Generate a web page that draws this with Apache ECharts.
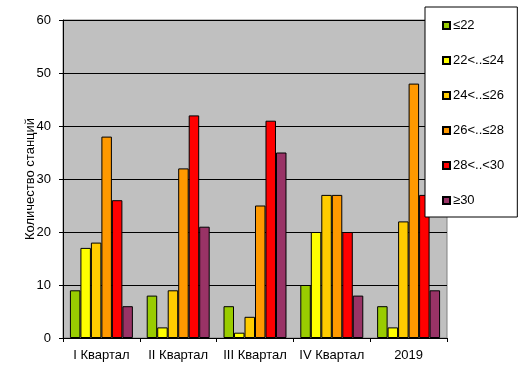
<!DOCTYPE html>
<html><head><meta charset="utf-8">
<script src="https://cdn.jsdelivr.net/npm/echarts@6/dist/echarts.min.js"></script>
<style>html,body{margin:0;padding:0;background:#fff}#c{width:531px;height:381px}</style>
</head><body><div id="c"></div>
<script>
const categories = ['I Квартал', 'II Квартал', 'III Квартал', 'IV Квартал', '2019'];
const seriesNames = ['≤22', '22<..≤24', '24<..≤26', '26<..≤28', '28<..<30', '≥30'];
const s1 = [9, 8, 6, 10, 6];
const s2 = [17, 2, 1, 20, 2];
const s3 = [18, 9, 4, 27, 22];
const s4 = [38, 32, 25, 27, 48];
const s5 = [26, 42, 41, 20, 27];
const s6 = [6, 21, 35, 8, 9];
const yTicks = [0, 10, 20, 30, 40, 50, 60];
const colors = ['#99CC00', '#FFFF00', '#FFCC00', '#FF9900', '#FF0000', '#993366'];
const allData = [s1, s2, s3, s4, s5, s6];

const chart = echarts.init(document.getElementById('c'));
const font = 'Liberation Sans, Arial, sans-serif';
chart.setOption({
  animation: false,
  textStyle: { fontFamily: font, color: '#000' },
  grid: { left: 63, top: 20, right: 84, bottom: 43, show: true, backgroundColor: '#C0C0C0', borderColor: '#808080', borderWidth: 1 },
  legend: {
    orient: 'vertical', left: 425, top: 7,
    backgroundColor: '#fff', borderColor: '#000', borderWidth: 1,
    padding: [12, 13, 10, 17],
    itemWidth: 7, itemHeight: 7, itemGap: 22, icon: 'rect',
    textStyle: { fontFamily: font, fontSize: 13, color: '#000', lineHeight: 13, padding: [0, 0, 0, -2] },
    data: seriesNames
  },
  xAxis: {
    type: 'category', data: categories,
    axisLine: { lineStyle: { color: '#000', width: 1 } },
    axisTick: { show: true, length: 4, lineStyle: { color: '#000' } },
    axisLabel: { color: '#000', fontSize: 13, fontFamily: font, margin: 11, interval: 0 },
    splitLine: { show: false }
  },
  yAxis: {
    type: 'value', min: yTicks[0], max: yTicks[yTicks.length - 1], interval: 10,
    name: 'Количество станций', nameLocation: 'middle', nameGap: 26, nameMoveOverlap: false,
    nameTextStyle: { color: '#000', fontSize: 13, fontFamily: font },
    axisLine: { show: true, lineStyle: { color: '#000', width: 1 } },
    axisTick: { show: true, length: 4, lineStyle: { color: '#000' } },
    axisLabel: { color: '#000', fontSize: 13, fontFamily: font, margin: 12 },
    splitLine: { show: true, lineStyle: { color: '#000', width: 1 } }
  },
  series: seriesNames.map((n, i) => ({
    name: n, type: 'bar', data: allData[i],
    barGap: '0%', barCategoryGap: '18%',
    itemStyle: { color: colors[i], borderColor: '#000', borderWidth: 1 }
  }))
});
</script></body></html>
